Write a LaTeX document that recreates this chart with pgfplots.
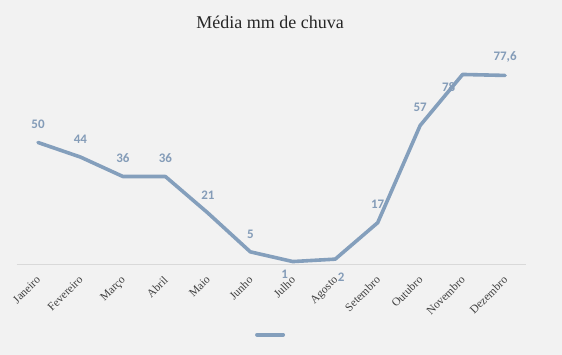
\documentclass[border=0pt]{standalone}
\usepackage{pgfplots}
\pgfplotsset{compat=1.18}
\usepackage{fontspec}
\setmainfont{Liberation Serif}
\newfontfamily\lab{Carlito}
\definecolor{bg}{RGB}{242,242,242}
\definecolor{ln}{RGB}{132,159,188}
\definecolor{lb}{RGB}{132,156,184}
\pgfplotstableread{
x y l
0 50 50
1 44 44
2 36 36
3 36 36
4 21 21
5 5 5
7 2 2
6 1 1
8 17 17
9 57 57
10 78 78
11 77.6 {77,6}
}\labdata
\begin{document}
\begin{tikzpicture}[x=1pt,y=1pt]
\fill[bg] (0,0) rectangle (562,355);
\node[font=\fontsize{18}{21}\selectfont, text=black!85] at (270,333) {Média mm de chuva};
\begin{axis}[
  at={(16.8pt,91pt)}, anchor=south west,
  scale only axis, width=509.5pt, height=218.7pt,
  xmin=-0.5, xmax=11.5, ymin=0, ymax=90,
  clip=false,
  axis x line=bottom, axis y line=none,
  x axis line style={-, draw=black!15, line width=0.6pt},
  xtick={0,...,11}, major tick length=0pt,
  xticklabels={Janeiro,Fevereiro,Março,Abril,Maio,Junho,Julho,Agosto,Setembro,Outubro,Novembro,Dezembro},
  xticklabel style={rotate=45, anchor=north east, font=\fontsize{11.5}{13}\selectfont, text=black!75, inner sep=0.5pt, xshift=-9pt, yshift=-5.5pt},
  legend style={at={(0.501,-0.323)}, anchor=center, draw=none, fill=none},
  legend image code/.code={\draw[ln, line width=4pt, line cap=round] (0pt,0pt) -- (26pt,0pt);},
]
\addplot[ln, line width=3.6pt, line join=round, line cap=round] coordinates {
(0,50) (1,44) (2,36) (3,36) (4,21) (5,5) (6,1) (7,2) (8,17) (9,57) (10,78) (11,77.6)};
\addlegendentry{}
\addplot[draw=none, forget plot, nodes near coords, point meta=explicit symbolic,
  every node near coord/.style={font=\lab\bfseries\fontsize{13}{14}\selectfont, text=lb, anchor=center, yshift=18pt}]
  table[x=x, y=y, meta=l, skip coords between index={6}{8}, skip coords between index={10}{11}] {\labdata};
\addplot[draw=none, forget plot, nodes near coords, point meta=explicit symbolic,
  every node near coord/.style={font=\lab\bfseries\fontsize{13}{14}\selectfont, text=lb, anchor=center, yshift=-13pt, xshift=-8pt}]
  table[x=x, y=y, meta=l] {
x y l
6 1 1
};
\addplot[draw=none, forget plot, nodes near coords, point meta=explicit symbolic,
  every node near coord/.style={font=\lab\bfseries\fontsize{13}{14}\selectfont, text=lb, anchor=center, yshift=-18pt, xshift=6pt}]
  table[x=x, y=y, meta=l] {
x y l
7 2 2
};
\addplot[draw=none, forget plot, nodes near coords, point meta=explicit symbolic,
  every node near coord/.style={font=\lab\bfseries\fontsize{13}{14}\selectfont, text=lb, anchor=center, yshift=-13pt, xshift=-14pt}]
  table[x=x, y=y, meta=l] {
x y l
10 78 78
};
\end{axis}
\end{tikzpicture}
\end{document}
